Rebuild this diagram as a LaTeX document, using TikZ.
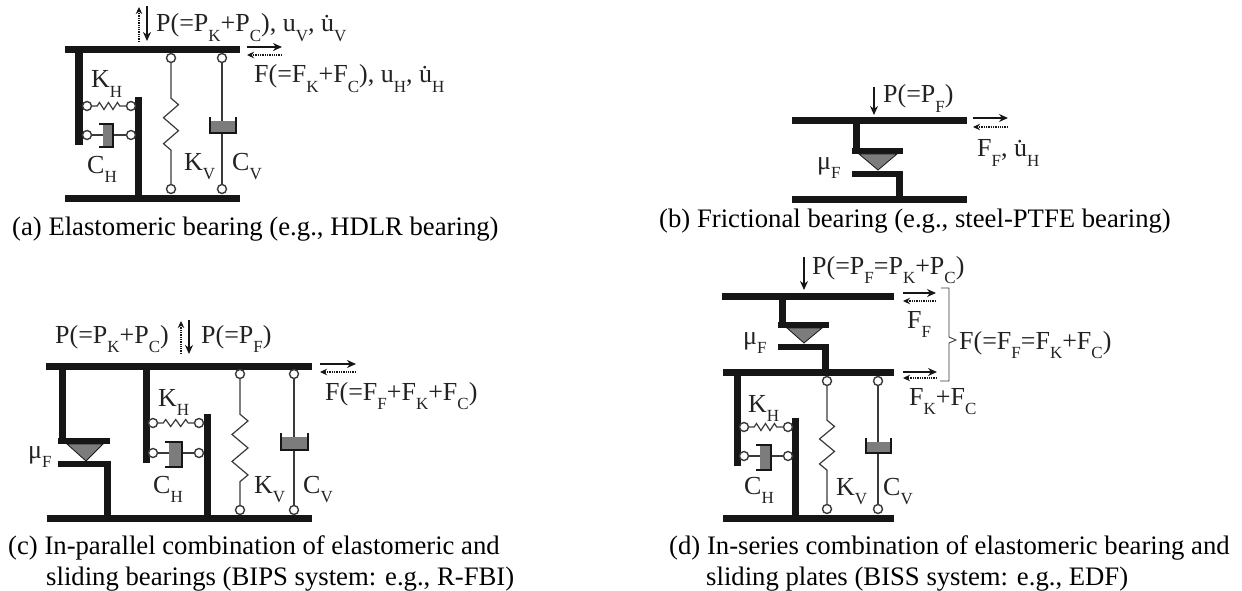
\documentclass[tikz,border=0pt]{standalone}
\usepackage{fontspec}
\usepackage{xcolor}
\setmainfont{Liberation Serif}
\usetikzlibrary{arrows.meta,decorations.pathmorphing}
\definecolor{PlateDark}{HTML}{161616}
\definecolor{LinkGray}{HTML}{3A3A3A}
\definecolor{FillGray}{HTML}{7C7C7C}
\definecolor{TextDark}{HTML}{222222}
\newcommand{\lowtxt}[1]{\raisebox{-.36em}{\fontsize{17}{17}\selectfont #1}}
\tikzset{
  plate/.style={draw=PlateDark, line width=7pt},
  hinge/.style={circle, draw=LinkGray, fill=white, line width=1.4pt, minimum size=9pt, inner sep=0pt},
  link/.style={draw=LinkGray, line width=1.2pt},
  spring/.style n args={4}{link, decorate, decoration={zigzag, pre length=#1, post length=#2, segment length=#3, amplitude=#4}},
  wedge/.style={fill=FillGray, draw=PlateDark, line width=.8pt},
  dampfill/.style={fill=FillGray},
  dampedge/.style={draw=PlateDark, line width=1.1pt},
  solidarrow/.style={draw=PlateDark, line width=1.5pt, -{Stealth[length=9pt,width=8pt]}},
  dotarrow/.style={draw=PlateDark, line width=1.3pt, densely dotted, -{Stealth[length=7pt,width=6.5pt]}},
  brace/.style={draw=LinkGray, line width=.9pt},
  lbl/.style={anchor=base west, inner sep=0pt, text=TextDark, font=\fontsize{26}{26}\selectfont},
  capt/.style={anchor=base west, inner sep=0pt, text=black, font=\fontsize{26.7}{26.7}\selectfont}
}
% damper opening to the left / upwards
\newcommand{\damperH}[4]{%
  \fill[dampfill] (#1+4,#3) rectangle (#2,#4);
  \draw[dampedge] (#1,#3) -- (#2,#3) -- (#2,#4) -- (#1,#4);}
\newcommand{\damperV}[4]{%
  \fill[dampfill] (#1,#3+4) rectangle (#2,#4);
  \draw[dampedge] (#1,#3) -- (#1,#4) -- (#2,#4) -- (#2,#3);}
\newcommand{\slider}[6]{% x1 x2 y upper, y lower, stem bottom x, stem bottom y
  \draw[plate, line width=6pt] (#1,#3) -- (#2,#3);
  \draw[plate, line width=6pt] (#1,#4) -- (#2,#4);
  \draw[plate, line width=7pt] (#5,#4-3) -- (#5,#6);}
\begin{document}
\begin{tikzpicture}[x=1pt,y=-1pt]
  \useasboundingbox (0,0) rectangle (1242,591);

  % (a)
  \draw[plate] (65,50) -- (240,50);
  \draw[plate] (65,198) -- (240,198);
  \draw[plate, line width=8pt] (79,50) -- (79,145);
  \draw[plate] (138,97) -- (138,198);
  \node[hinge] (aKHl) at (87,106) {};
  \node[hinge] (aKHr) at (131,106) {};
  \node[hinge] (aCHl) at (87,135) {};
  \node[hinge] (aCHr) at (131,135) {};
  \node[hinge] (aKVt) at (171,58) {};
  \node[hinge] (aKVb) at (171,189) {};
  \node[hinge] (aCVt) at (222,58) {};
  \node[hinge] (aCVb) at (222,189) {};
  \draw[spring={5}{3}{9}{3.5}] (aKHl) -- (aKHr);
  \draw[link] (aCHl) -- (aCHr);
  \damperH{99}{113}{124}{147}
  \draw[spring={35}{22}{26}{7.5}] (aKVt) -- (aKVb);
  \draw[link] (aCVt) -- (aCVb);
  \damperV{210}{236}{117}{133}
  \coordinate (aPa) at (147,6); \coordinate (aPb) at (147,41);
  \coordinate (aPc) at (139,42); \coordinate (aPd) at (139,7);
  \draw[solidarrow] (aPa) -- (aPb);
  \draw[dotarrow] (aPc) -- (aPd);
  \coordinate (aFa) at (247,47); \coordinate (aFb) at (282,47);
  \coordinate (aFc) at (282,55); \coordinate (aFd) at (247,55);
  \draw[solidarrow] (aFa) -- (aFb);
  \draw[dotarrow] (aFc) -- (aFd);
  \node[lbl] (aP) at (156,32) {P(=P\lowtxt{K}+P\lowtxt{C}), u\lowtxt{V}, \.u\lowtxt{V}};
  \node[lbl] (aF) at (254,83) {F(=F\lowtxt{K}+F\lowtxt{C}), u\lowtxt{H}, \.u\lowtxt{H}};
  \node[lbl] (aKH) at (91,88) {K\lowtxt{H}};
  \node[lbl] (aCH) at (87,173) {C\lowtxt{H}};
  \node[lbl] (aKV) at (184,170) {K\lowtxt{V}};
  \node[lbl] (aCV) at (232,170) {C\lowtxt{V}};
  \node[capt] (aCap) at (12,235) {(a) Elastomeric bearing (e.g., HDLR bearing)};

  % (b)
  \draw[plate] (792,121) -- (967,121);
  \draw[plate] (792,199) -- (967,199);
  \draw[plate] (856,121) -- (856,151);
  \slider{852}{903}{151}{174}{899}{199}
  \filldraw[wedge] (859,154) -- (897,154) -- (878,170) -- cycle;
  \coordinate (bPa) at (874,87); \coordinate (bPb) at (874,115);
  \draw[solidarrow] (bPa) -- (bPb);
  \coordinate (bFa) at (973,118); \coordinate (bFb) at (1008,118);
  \coordinate (bFc) at (1008,127); \coordinate (bFd) at (973,127);
  \draw[solidarrow] (bFa) -- (bFb);
  \draw[dotarrow] (bFc) -- (bFd);
  \node[lbl] (bP) at (883,103) {P(=P\lowtxt{F})};
  \node[lbl] (bF) at (977,157) {F\lowtxt{F}, \.u\lowtxt{H}};
  \node[lbl] (bMu) at (817,169) {μ\lowtxt{F}};
  \node[capt] (bCap) at (659,227) {(b) Frictional bearing (e.g., steel-PTFE bearing)};

  % (c)
  \draw[plate] (46,366) -- (312,366);
  \draw[plate] (47,518) -- (312,518);
  \draw[plate] (62,366) -- (62,441);
  \slider{58}{110}{441}{464}{107}{518}
  \filldraw[wedge] (67,444) -- (103,444) -- (86,461) -- cycle;
  \draw[plate] (146,366) -- (146,463);
  \draw[plate] (207,414) -- (207,518);
  \node[hinge] (cKHl) at (153,423) {};
  \node[hinge] (cKHr) at (199,423) {};
  \node[hinge] (cCHl) at (153,453) {};
  \node[hinge] (cCHr) at (199,453) {};
  \node[hinge] (cKVt) at (240,374) {};
  \node[hinge] (cKVb) at (240,510) {};
  \node[hinge] (cCVt) at (294,374) {};
  \node[hinge] (cCVb) at (294,510) {};
  \draw[spring={5}{3}{10}{3.5}] (cKHl) -- (cKHr);
  \draw[link] (cCHl) -- (cCHr);
  \damperH{165}{182}{442}{467}
  \draw[spring={35}{23}{27}{8}] (cKVt) -- (cKVb);
  \draw[link] (cCVt) -- (cCVb);
  \damperV{281}{308}{433}{450}
  \coordinate (cPa) at (189,320); \coordinate (cPb) at (189,354);
  \coordinate (cPc) at (181,354); \coordinate (cPd) at (181,321);
  \draw[solidarrow] (cPa) -- (cPb);
  \draw[dotarrow] (cPc) -- (cPd);
  \coordinate (cFa) at (320,364); \coordinate (cFb) at (356,364);
  \coordinate (cFc) at (356,372); \coordinate (cFd) at (320,372);
  \draw[solidarrow] (cFa) -- (cFb);
  \draw[dotarrow] (cFc) -- (cFd);
  \node[lbl] (cP) at (55,343) {P(=P\lowtxt{K}+P\lowtxt{C})};
  \node[lbl] (cQ) at (201,343) {P(=P\lowtxt{F})};
  \node[lbl] (cF) at (325,400) {F(=F\lowtxt{F}+F\lowtxt{K}+F\lowtxt{C})};
  \node[lbl] (cKH) at (158,406) {K\lowtxt{H}};
  \node[lbl] (cCH) at (153,493) {C\lowtxt{H}};
  \node[lbl] (cKV) at (254,493) {K\lowtxt{V}};
  \node[lbl] (cCV) at (303,493) {C\lowtxt{V}};
  \node[lbl] (cMu) at (28,458) {μ\lowtxt{F}};
  \node[capt] (cCap) at (8,554) {(c) In-parallel combination of elastomeric and};
  \node[capt] (cCapb) at (46,585) {sliding bearings (BIPS system: e.g., R-FBI)};

  % (d)
  \draw[plate] (722,296) -- (894,296);
  \draw[plate] (723,372) -- (894,372);
  \draw[plate] (723,518) -- (894,518);
  \draw[plate] (782,296) -- (782,325);
  \slider{778}{829}{325}{347}{825}{372}
  \filldraw[wedge] (787,328) -- (822,328) -- (804,343) -- cycle;
  \draw[plate] (737,372) -- (737,466);
  \draw[plate] (795,418) -- (795,518);
  \node[hinge] (dKHl) at (744,427) {};
  \node[hinge] (dKHr) at (788,427) {};
  \node[hinge] (dCHl) at (744,456) {};
  \node[hinge] (dCHr) at (788,456) {};
  \node[hinge] (dKVt) at (827,381) {};
  \node[hinge] (dKVb) at (827,509) {};
  \node[hinge] (dCVt) at (878,381) {};
  \node[hinge] (dCVb) at (878,509) {};
  \draw[spring={5}{3}{9}{3.5}] (dKHl) -- (dKHr);
  \draw[link] (dCHl) -- (dCHr);
  \damperH{756}{771}{445}{470}
  \draw[spring={34}{22}{25}{7.5}] (dKVt) -- (dKVb);
  \draw[link] (dCVt) -- (dCVb);
  \damperV{866}{891}{438}{453}
  \coordinate (dPa) at (804,257); \coordinate (dPb) at (804,290);
  \draw[solidarrow] (dPa) -- (dPb);
  \coordinate (dFa) at (903,293); \coordinate (dFb) at (936,293);
  \coordinate (dFc) at (936,301); \coordinate (dFd) at (903,301);
  \draw[solidarrow] (dFa) -- (dFb);
  \draw[dotarrow] (dFc) -- (dFd);
  \coordinate (dGa) at (903,372); \coordinate (dGb) at (937,372);
  \coordinate (dGc) at (937,378); \coordinate (dGd) at (903,378);
  \draw[solidarrow] (dGa) -- (dGb);
  \draw[dotarrow] (dGc) -- (dGd);
  \draw[brace] (941,288) -- (949,288) -- (949,337) -- (956,340) -- (949,343) -- (949,381) -- (940,381);
  \node[lbl] (dP) at (812,274) {P(=P\lowtxt{F}=P\lowtxt{K}+P\lowtxt{C})};
  \node[lbl] (dFF) at (907,328) {F\lowtxt{F}};
  \node[lbl] (dF) at (959,349) {F(=F\lowtxt{F}=F\lowtxt{K}+F\lowtxt{C})};
  \node[lbl] (dFK) at (909,405) {F\lowtxt{K}+F\lowtxt{C}};
  \node[lbl] (dKH) at (748,412) {K\lowtxt{H}};
  \node[lbl] (dCH) at (744,494) {C\lowtxt{H}};
  \node[lbl] (dKV) at (836,495) {K\lowtxt{V}};
  \node[lbl] (dCV) at (883,495) {C\lowtxt{V}};
  \node[lbl] (dMu) at (743,344) {μ\lowtxt{F}};
  \node[capt] (dCap) at (669,554) {(d) In-series combination of elastomeric bearing and};
  \node[capt] (dCapb) at (706,585) {sliding plates (BISS system: e.g., EDF)};
\end{tikzpicture}
\end{document}
